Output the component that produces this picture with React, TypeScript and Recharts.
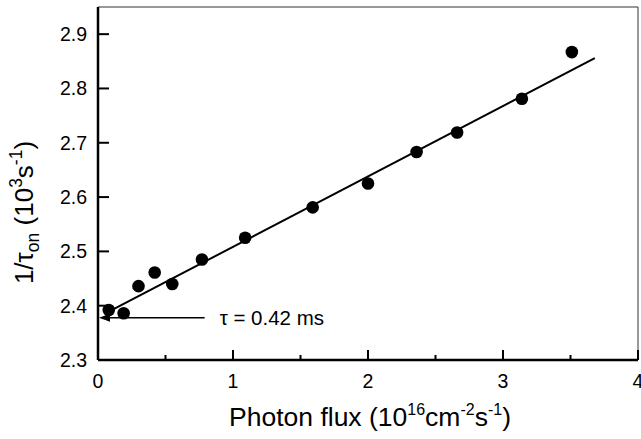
import React from 'react';
import { ScatterChart, Scatter, XAxis, YAxis, ReferenceLine } from 'recharts';

const FONT = '"Liberation Sans", Arial, Helvetica, sans-serif';

// measured points: photon flux (1e16 cm^-2 s^-1) vs 1/tau_on (1e3 s^-1)
const fluxValues = [0.08, 0.19, 0.3, 0.42, 0.55, 0.77, 1.09, 1.59, 2.0, 2.36, 2.66, 3.14, 3.51];
const rateValues = [2.392, 2.386, 2.436, 2.461, 2.44, 2.485, 2.525, 2.581, 2.625, 2.683, 2.719, 2.781, 2.867];

// linear fit, drawn between its two end points
const fitFlux = [0.08, 3.68];
const fitRate = [2.389, 2.856];

// arrow marking the intercept
const arrowFlux = [0.79, 0];
const arrowRate = 2.378;
const arrowText = 'τ = 0.42 ms';

const xTicks = [0, 0.5, 1, 1.5, 2, 2.5, 3, 3.5, 4];
const yTicks = [2.3, 2.4, 2.5, 2.6, 2.7, 2.8, 2.9];
const xDomain = [0, 4];
const yDomain = [2.3, 2.95];

const points = fluxValues.map((x, i) => ({ x, y: rateValues[i] }));
const fitLine = fitFlux.map((x, i) => ({ x, y: fitRate[i] }));

const XTick = (props: any) => {
  const { x, y, payload } = props;
  const major = Number.isInteger(payload.value);
  return (
    <g>
      <line x1={x} x2={x} y1={y} y2={y - (major ? 10 : 5)} stroke="#000" strokeWidth={2} />
      {major && (
        <text x={x} y={y + 28} textAnchor="middle" fontSize={19.5} fontFamily={FONT} fill="#000">
          {payload.value}
        </text>
      )}
    </g>
  );
};

const YTick = (props: any) => {
  const { x, y, payload } = props;
  return (
    <g>
      <line x1={x} x2={x + 11} y1={y} y2={y} stroke="#000" strokeWidth={2} />
      <text x={x - 11} y={y + 7} textAnchor="end" fontSize={19.5} fontFamily={FONT} fill="#000">
        {payload.value.toFixed(1)}
      </text>
    </g>
  );
};

const XLabel = (props: any) => {
  const { viewBox } = props;
  const cx = viewBox.x + viewBox.width / 2 + 2;
  return (
    <text x={cx} y={viewBox.y + 66} textAnchor="middle" fontSize={26.5} fontFamily={FONT} fill="#000">
      Photon flux (10
      <tspan fontSize={16} dy={-11}>16</tspan>
      <tspan dy={11}>cm</tspan>
      <tspan fontSize={16} dy={-11}>-2</tspan>
      <tspan dy={11}>s</tspan>
      <tspan fontSize={16} dy={-11}>-1</tspan>
      <tspan dy={11}>)</tspan>
    </text>
  );
};

const YLabel = (props: any) => {
  const { viewBox } = props;
  const cy = viewBox.y + viewBox.height / 2 + 29;
  return (
    <text
      transform={`translate(${viewBox.x + 33}, ${cy}) rotate(-90)`}
      textAnchor="middle"
      fontSize={26}
      fontFamily={FONT}
      fill="#000"
    >
      1/τ
      <tspan fontSize={17.5} dy={6}>on</tspan>
      <tspan dy={-6}> (10</tspan>
      <tspan fontSize={17.5} dy={-11}>3</tspan>
      <tspan dy={11}>s</tspan>
      <tspan fontSize={17.5} dy={-11}>-1</tspan>
      <tspan dy={11}>)</tspan>
    </text>
  );
};

const ArrowShape = (props: any) => {
  const { x1, y1, x2, y2 } = props;
  const left = Math.min(x1, x2);
  const right = Math.max(x1, x2);
  return (
    <g>
      <line x1={left + 8} x2={right} y1={y1} y2={y2} stroke="#000" strokeWidth={1.5} />
      <polygon points={`${left + 1},${y1} ${left + 12},${y1 - 4} ${left + 12},${y1 + 4}`} fill="#000" />
      <text x={right + 15} y={y1 + 7} fontSize={20.5} fontFamily={FONT} fill="#000">
        {arrowText}
      </text>
    </g>
  );
};

const Dot = (props: any) => <circle cx={props.cx} cy={props.cy} r={6.3} fill="#000" />;

export default function App() {
  return (
    <div style={{ position: 'absolute', left: 0, top: 0, background: '#fff' }}>
      <ScatterChart width={641} height={439} margin={{ top: 7, right: 3, bottom: 0, left: 0 }}>
        <XAxis
          type="number"
          dataKey="x"
          domain={xDomain}
          ticks={xTicks}
          interval={0}
          height={79}
          tickSize={0}
          tickMargin={0}
          tickLine={false}
          axisLine={{ stroke: '#000', strokeWidth: 2.5 }}
          tick={<XTick />}
          label={<XLabel />}
        />
        <YAxis
          type="number"
          dataKey="y"
          domain={yDomain}
          ticks={yTicks}
          interval={0}
          width={98}
          tickSize={0}
          tickMargin={0}
          tickLine={false}
          axisLine={{ stroke: '#000', strokeWidth: 2.5 }}
          tick={<YTick />}
          label={<YLabel />}
        />
        <ReferenceLine y={yDomain[1]} stroke="#333" strokeWidth={1} />
        <ReferenceLine x={xDomain[1]} stroke="#333" strokeWidth={1} />
        <ReferenceLine
          segment={[
            { x: arrowFlux[0], y: arrowRate },
            { x: arrowFlux[1], y: arrowRate },
          ]}
          shape={<ArrowShape />}
        />
        <Scatter
          data={fitLine}
          line={{ stroke: '#000', strokeWidth: 2 }}
          shape={() => <g />}
          isAnimationActive={false}
        />
        <Scatter data={points} shape={<Dot />} isAnimationActive={false} />
      </ScatterChart>
    </div>
  );
}
